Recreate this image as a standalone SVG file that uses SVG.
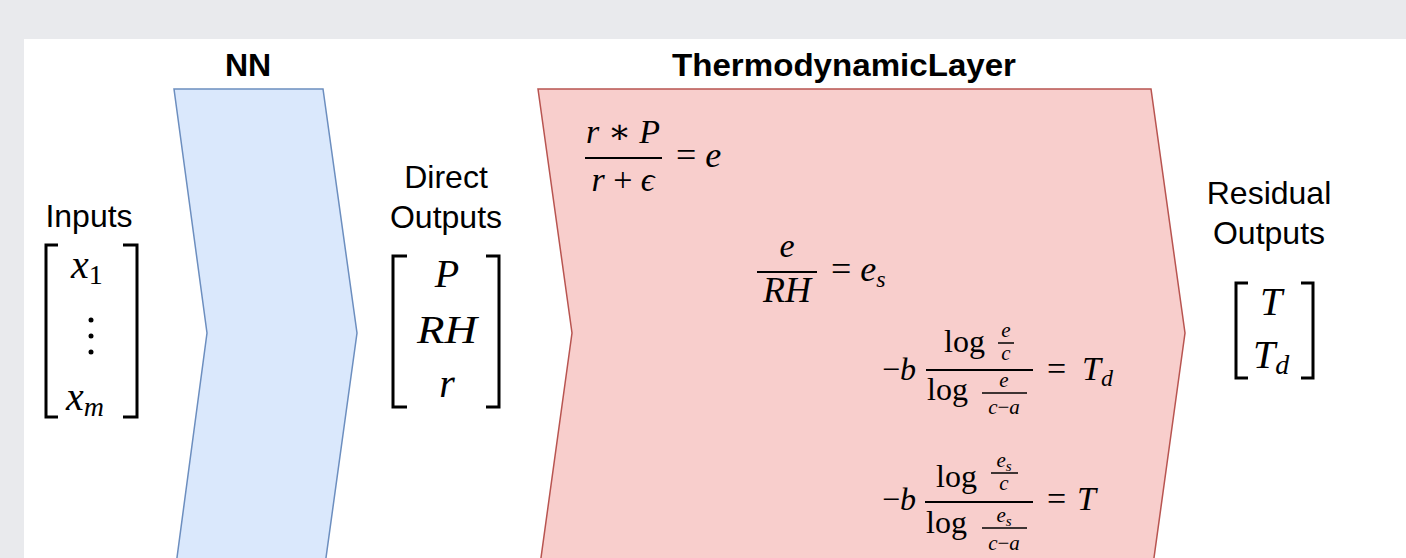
<svg xmlns="http://www.w3.org/2000/svg" width="1406" height="558" viewBox="0 0 1406 558">
<style>
.title{font-family:"Liberation Sans",Arial,sans-serif;font-weight:bold;font-size:32px;fill:#000;text-anchor:middle}
.lbl{font-family:"Liberation Sans",Arial,sans-serif;font-size:32px;fill:#000;text-anchor:middle}
.m{font-family:"Liberation Serif","DejaVu Serif",serif;fill:#000}
.i{font-style:italic}
.c{text-anchor:middle}
.br{fill:none;stroke:#000;stroke-width:3}
.fl{stroke:#000;stroke-width:2}
.fs{stroke:#000;stroke-width:1.5}
.blue{fill:#dae8fc;stroke:#6c8ebf;stroke-width:1.5}
.red{fill:#f8cecc;stroke:#b85450;stroke-width:1.5}
</style>
<rect x="0" y="0" width="1406" height="558" fill="#e9eaed"/>
<rect x="24" y="39" width="1390" height="530" fill="#ffffff"/>

<g id="nn">
<polygon class="blue" points="174,89 323,89 357,333 325,565 176,565 207,333"/>
<text class="title" x="248" y="76">NN</text>
</g>

<g id="thermo">
<polygon class="red" points="538,89 1151,89 1185,333 1153,565 540,565 572,333"/>
<text class="title" x="844" y="76" textLength="344" lengthAdjust="spacingAndGlyphs">ThermodynamicLayer</text>
<g id="eq1" class="m" font-size="34">
<text class="c" x="623" y="143"><tspan class="i">r</tspan> ∗ <tspan class="i">P</tspan></text>
<line class="fl" x1="585" y1="158" x2="662" y2="158"/>
<text class="c" x="623" y="191"><tspan class="i">r</tspan> + <tspan class="i">ϵ</tspan></text>
<text x="676" y="167" font-size="36">= <tspan class="i">e</tspan></text>
</g>
<g id="eq2" class="m" font-size="34">
<text class="c i" x="787" y="257">e</text>
<line class="fl" x1="757" y1="272" x2="817" y2="272"/>
<text class="c i" x="787" y="302" font-size="36">RH</text>
<text x="831" y="281" font-size="36">= <tspan class="i">e</tspan><tspan class="i" font-size="24" dy="6">s</tspan></text>
</g>
<g id="eq3" class="m" font-size="32">
<text x="882" y="380">−<tspan class="i">b</tspan></text>
<line class="fl" x1="926" y1="370" x2="1033" y2="370"/>
<text x="944" y="352">log</text>
<line class="fs" x1="998" y1="343" x2="1014" y2="343"/>
<text class="c i" x="1006" y="337" font-size="21">e</text>
<text class="c i" x="1006" y="360" font-size="21">c</text>
<text x="927" y="400">log</text>
<line class="fs" x1="982" y1="393" x2="1027" y2="393"/>
<text class="c i" x="1004" y="387" font-size="21">e</text>
<text class="c" x="1004" y="414" font-size="21"><tspan class="i">c</tspan>−<tspan class="i">a</tspan></text>
<text x="1047" y="380" font-size="34">=</text>
<text x="1082" y="380" font-size="34"><tspan class="i">T</tspan><tspan class="i" font-size="24" dy="6">d</tspan></text>
</g>
<g id="eq4" class="m" font-size="32">
<text x="882" y="510">−<tspan class="i">b</tspan></text>
<line class="fl" x1="925" y1="502" x2="1033" y2="502"/>
<text x="936" y="487">log</text>
<line class="fs" x1="991" y1="473" x2="1018" y2="473"/>
<text class="c i" x="1004" y="467" font-size="21">e<tspan font-size="15" dy="4">s</tspan></text>
<text class="c i" x="1004" y="490" font-size="21">c</text>
<text x="926" y="533">log</text>
<line class="fs" x1="982" y1="528" x2="1027" y2="528"/>
<text class="c i" x="1004" y="522" font-size="21">e<tspan font-size="15" dy="4">s</tspan></text>
<text class="c" x="1004" y="550" font-size="21"><tspan class="i">c</tspan>−<tspan class="i">a</tspan></text>
<text x="1047" y="510" font-size="34">=</text>
<text class="i" x="1077" y="510" font-size="34">T</text>
</g>
</g>

<g id="inputs">
<text class="lbl" x="89" y="227">Inputs</text>
<path class="br" d="M58,245 H46 V417 H58"/>
<path class="br" d="M123,245 H137 V417 H123"/>
<text class="m" x="71" y="278" font-size="40"><tspan class="i">x</tspan><tspan font-size="28" dy="6">1</tspan></text>
<circle cx="91" cy="320" r="2.5"/>
<circle cx="91" cy="336" r="2.5"/>
<circle cx="91" cy="352" r="2.5"/>
<text class="m" x="66" y="410" font-size="40"><tspan class="i">x</tspan><tspan class="i" font-size="28" dy="6">m</tspan></text>
</g>

<g id="direct">
<text class="lbl" x="446" y="188">Direct</text>
<text class="lbl" x="446" y="228">Outputs</text>
<path class="br" d="M407,256 H393 V407 H407"/>
<path class="br" d="M486,256 H499 V407 H486"/>
<text class="m i c" x="447" y="287" font-size="40">P</text>
<text class="m i c" x="447" y="343" font-size="40" textLength="60" lengthAdjust="spacingAndGlyphs">RH</text>
<text class="m i c" x="447" y="397" font-size="40">r</text>
</g>

<g id="residual">
<text class="lbl" x="1269" y="204">Residual</text>
<text class="lbl" x="1269" y="244">Outputs</text>
<path class="br" d="M1248,283 H1236 V378 H1248"/>
<path class="br" d="M1301,283 H1313 V378 H1301"/>
<text class="m i c" x="1271" y="315" font-size="40">T</text>
<text class="m" x="1253" y="368" font-size="40"><tspan class="i">T</tspan><tspan class="i" font-size="28" dy="6">d</tspan></text>
</g>
</svg>
